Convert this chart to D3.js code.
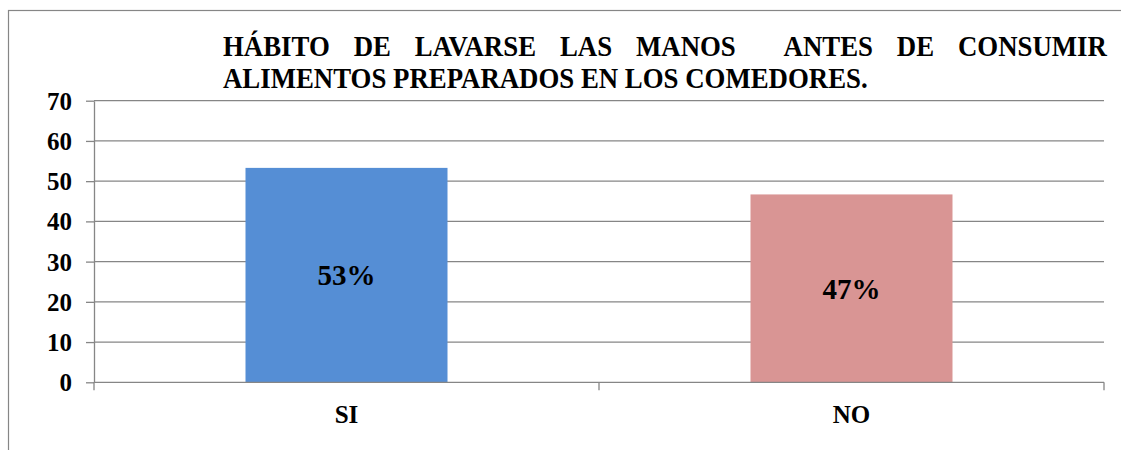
<!DOCTYPE html>
<html>
<head>
<meta charset="utf-8">
<script src="https://cdn.jsdelivr.net/npm/d3@7"></script>
<style>
  body { margin: 0; background: #fff; }
</style>
</head>
<body>
<div id="chart"></div>
<script>
const categories = ['SI', 'NO'];
const values = [53.3, 46.7];
const barLabels = ['53%', '47%'];
const barColors = ['#558ED5', '#D99594'];
const yTicks = [0, 10, 20, 30, 40, 50, 60, 70];
const titleLine1 = ['HÁBITO', 'DE', 'LAVARSE', 'LAS', 'MANOS', '', 'ANTES', 'DE', 'CONSUMIR'];
const titleLine2 = 'ALIMENTOS PREPARADOS EN LOS COMEDORES.';

const W = 1121, H = 450;
const margin = { top: 100.7, left: 94, right: 17, bottom: 67.7 };
const plotW = W - margin.left - margin.right;
const plotH = H - margin.top - margin.bottom;
const gridColor = '#868686';
const font = '"Liberation Serif", "Times New Roman", serif';

function serif(sel, size) {
  return sel.style('font-family', font)
    .style('font-weight', 'bold')
    .style('font-size', size + 'px')
    .attr('fill', '#000');
}

const svg = d3.select('#chart').append('svg')
  .attr('width', W)
  .attr('height', H);

svg.append('rect').attr('width', W).attr('height', H).attr('fill', '#fff');

// outer chart border (runs past the right and bottom edges)
svg.append('rect')
  .attr('x', 8.5).attr('y', 10.5)
  .attr('width', 1300).attr('height', 600)
  .attr('fill', 'none')
  .attr('stroke', gridColor)
  .attr('stroke-width', 1.2);

// title: tall condensed type, first line justified
const title = svg.append('g').attr('class', 'title');
const titleX0 = 223, titleX1 = 1107;
const line2 = serif(title.append('text'), 30).text(titleLine2);
const sx = 645 / line2.node().getComputedTextLength();
line2.attr('transform', `translate(${titleX0}, 88) scale(${sx}, 1)`);

const words = serif(title.selectAll('text.w1')
  .data(titleLine1)
  .enter().append('text')
  .attr('class', 'w1'), 30)
  .text(d => d);
const widths = [];
words.each(function () { widths.push(this.getComputedTextLength() * sx); });
const gap = (titleX1 - titleX0 - d3.sum(widths)) / (titleLine1.length - 1);
let cx = titleX0;
words.each(function (d, i) {
  d3.select(this).attr('transform', `translate(${cx}, 55.5) scale(${sx}, 1)`);
  cx += widths[i] + gap;
});
words.filter(d => !d).remove();

const chart = svg.append('g')
  .attr('transform', `translate(${margin.left}, ${margin.top})`);

const yScale = d3.scaleLinear().domain([0, 70]).range([plotH, 0]);
const xScale = d3.scaleBand().domain(categories).range([0, plotW])
  .paddingInner(0.6).paddingOuter(0.3);

// gridlines
chart.append('g')
  .attr('class', 'grid')
  .selectAll('line')
  .data(yTicks.filter(t => t > 0))
  .enter().append('line')
  .attr('x1', 0).attr('x2', plotW)
  .attr('y1', d => yScale(d)).attr('y2', d => yScale(d))
  .attr('stroke', gridColor)
  .attr('stroke-width', 1.3);

// bars
chart.selectAll('rect.bar')
  .data(categories)
  .enter().append('rect')
  .attr('class', 'bar')
  .attr('x', d => xScale(d))
  .attr('width', xScale.bandwidth())
  .attr('y', (d, i) => yScale(values[i]))
  .attr('height', (d, i) => plotH - yScale(values[i]))
  .attr('fill', (d, i) => barColors[i]);

// bar labels
serif(chart.selectAll('text.lbl')
  .data(categories)
  .enter().append('text')
  .attr('class', 'lbl')
  .attr('x', d => xScale(d) + xScale.bandwidth() / 2)
  .attr('y', (d, i) => (yScale(values[i]) + plotH) / 2)
  .attr('dy', '0.35em')
  .attr('text-anchor', 'middle'), 29)
  .text((d, i) => barLabels[i]);

// y axis
const yAxis = chart.append('g')
  .attr('class', 'axis axis-y')
  .call(d3.axisLeft(yScale).tickValues(yTicks).tickSize(8).tickPadding(14).tickSizeOuter(0));
yAxis.select('.domain').attr('stroke', gridColor).attr('stroke-width', 1.3);
yAxis.selectAll('.tick line').attr('stroke', gridColor).attr('stroke-width', 1.3);
serif(yAxis.selectAll('.tick text').attr('dy', '0.34em'), 25);

// x axis
const xAxis = chart.append('g')
  .attr('class', 'axis axis-x')
  .attr('transform', `translate(0, ${plotH})`);
xAxis.append('line')
  .attr('x1', 0).attr('x2', plotW)
  .attr('stroke', gridColor).attr('stroke-width', 1.3);
const bounds = [0].concat(categories.map(c => xScale(c) + xScale.bandwidth() + xScale.step() * xScale.paddingOuter()));
xAxis.selectAll('line.tk')
  .data(bounds)
  .enter().append('line')
  .attr('class', 'tk')
  .attr('x1', d => d).attr('x2', d => d)
  .attr('y1', 0).attr('y2', 8)
  .attr('stroke', gridColor).attr('stroke-width', 1.3);
serif(xAxis.selectAll('text.cat')
  .data(categories)
  .enter().append('text')
  .attr('class', 'cat')
  .attr('x', d => xScale(d) + xScale.bandwidth() / 2)
  .attr('y', 41)
  .attr('text-anchor', 'middle'), 25)
  .text(d => d);
</script>
</body>
</html>
